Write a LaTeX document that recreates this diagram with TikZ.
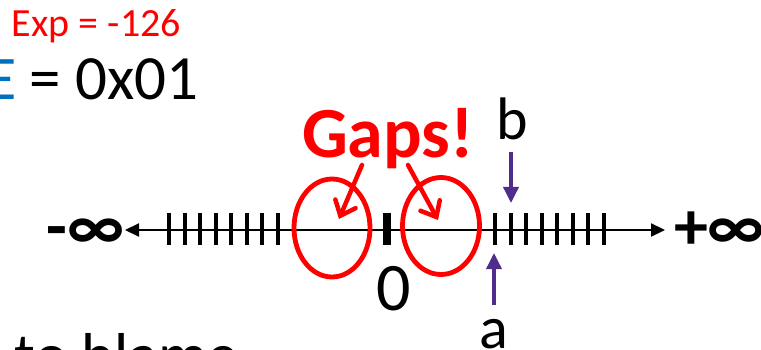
\documentclass[tikz,border=0pt]{standalone}
\usepackage{fontspec}
\setmainfont{Carlito}
\usetikzlibrary{arrows.meta,shapes.geometric}
\definecolor{gapred}{RGB}{255,0,0}
\definecolor{eblue}{RGB}{0,112,192}
\definecolor{ptr}{RGB}{80,44,140}
\newcommand{\fsz}[1]{\fontsize{#1}{#1}\selectfont}
\tikzset{
  txt/.style={inner sep=0pt, outer sep=0pt},
  axisline/.style={line width=2.2pt, {Triangle[length=14pt,width=13pt]}-{Triangle[length=14pt,width=13pt]}},
  tick/.style={line width=3.5pt},
  zerotick/.style={line width=7.5pt},
  gapring/.style={draw=gapred, line width=4.8pt},
  gaparrow/.style={draw=gapred, line width=4.5pt, line cap=round, -{Straight Barb[length=13pt,width=22pt,line cap=round]}},
  ptrarrow/.style={draw=ptr, line width=3.5pt, -{Triangle[length=16pt,width=15pt]}},
}
\begin{document}
\begin{tikzpicture}[x=1pt,y=-1pt]
\useasboundingbox (0,0) rectangle (761,350);
\clip (0,0) rectangle (761,350);
\fill[white] (0,0) rectangle (761,350);
% top texts
\node[txt, anchor=base west, text=gapred] (exp) at (12,37) {\fsz{40}Exp = -126};
\node[txt, anchor=base east, text=eblue] (E) at (17,100) {\fsz{62}E};
\node[txt, anchor=base west] (val) at (30,100) {\fsz{63}= 0x01};
% axis
\coordinate (axL) at (125,230);
\coordinate (axR) at (665,230);
\draw[axisline] (axL) -- (axR);
\foreach \x in {169,185,200,216,231,247,262,278,495,511,526,542,557,573,588,604}
  \draw[tick] (\x,213) -- (\x,245);
\draw[zerotick] (387,213) -- (387,245);
\node[txt, anchor=base east, font=\bfseries] (minf) at (124,250) {\fsz{68}-∞};
\node[txt, anchor=base west, font=\bfseries] (pinf) at (674,250) {\fsz{68}+∞};
% gaps
\node[gapring, ellipse, minimum width=76pt, minimum height=98pt, inner sep=0pt] (g1) at (332,228) {};
\node[gapring, ellipse, minimum width=77pt, minimum height=97pt, inner sep=0pt] (g2) at (441,226) {};
\node[txt, anchor=base, text=gapred, font=\bfseries] (gaps) at (388,158) {\fsz{72}Gaps!};
\coordinate (s1) at (362,165);
\coordinate (t1) at (339,219);
\coordinate (s2) at (408,165);
\coordinate (t2) at (438,220);
\draw[gaparrow] (s1) -- (t1);
\draw[gaparrow] (s2) -- (t2);
% labels
\node[txt, anchor=base] (zero) at (394,310) {\fsz{68}0};
\node[txt, anchor=base] (lb) at (512,140) {\fsz{60}b};
\node[txt, anchor=base] (la) at (494,348) {\fsz{60}a};
\coordinate (bs) at (511,152);
\coordinate (bt) at (511,203);
\coordinate (as) at (494,305);
\coordinate (at) at (494,253);
\draw[ptrarrow] (bs) -- (bt);
\draw[ptrarrow] (as) -- (at);
% bottom cut text
\node[txt, anchor=base west] (blame) at (15,376) {\fsz{62}to blame};
\end{tikzpicture}
\end{document}
